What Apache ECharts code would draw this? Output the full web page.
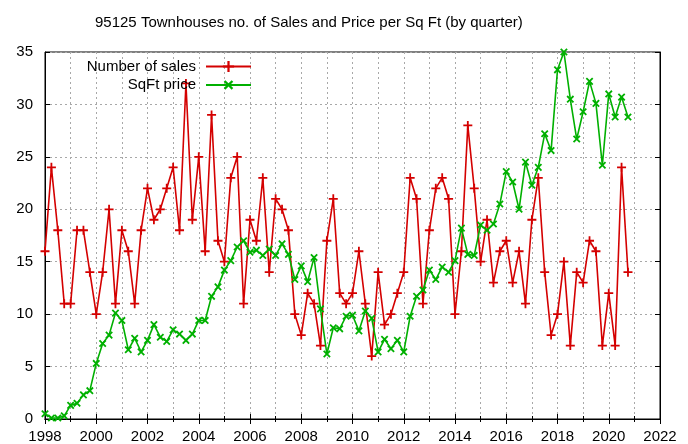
<!DOCTYPE html>
<html>
<head>
<meta charset="utf-8">
<script src="https://cdn.jsdelivr.net/npm/echarts@6/dist/echarts.min.js"></script>
<style>
  html, body { margin: 0; padding: 0; background: #fff; }
  #main { width: 688px; height: 444px; }
</style>
</head>
<body>
<div id="main"></div>
<script>
// quarterly data, first quarter = 1998 Q1
const startYear = 1998
const sales = [16, 24, 18, 11, 11, 18, 18, 14, 10, 14, 20, 11, 18, 16, 11, 18,
  22, 19, 20, 22, 24, 18, 32, 19, 25, 16, 29, 17, 15, 23, 25, 11,
  19, 17, 23, 14, 21, 20, 18, 10, 8, 12, 11, 7, 17, 21, 12, 11,
  12, 16, 11, 6, 14, 9, 10, 12, 14, 23, 21, 11, 18, 22, 23, 21,
  10, 16, 28, 22, 15, 19, 13, 16, 17, 13, 16, 11, 19, 23, 14, 8,
  10, 15, 7, 14, 13, 17, 16, 7, 12, 7, 24, 14]
const sqftPrice = [0.5, 0.1, 0.1, 0.3, 1.3, 1.5, 2.3, 2.7, 5.3, 7.2, 8.0, 10.1, 9.4, 6.6, 7.7, 6.4,
  7.5, 9.0, 7.8, 7.4, 8.5, 8.1, 7.5, 8.1, 9.4, 9.4, 11.7, 12.6, 14.2, 15.1, 16.4, 17.0,
  15.9, 16.1, 15.6, 16.2, 15.6, 16.7, 15.7, 13.3, 14.6, 13.1, 15.4, 10.5, 6.2, 8.7, 8.6, 9.8,
  9.9, 8.4, 10.3, 9.6, 6.4, 7.6, 6.7, 7.5, 6.4, 9.8, 11.7, 12.3, 14.2, 13.3, 14.5, 14.0,
  15.1, 18.2, 15.7, 15.6, 18.5, 18.0, 18.6, 20.5, 23.6, 22.6, 20.0, 24.5, 22.3, 24.0, 27.2, 25.6,
  33.3, 35.0, 30.5, 26.7, 29.3, 32.2, 30.1, 24.2, 31.0, 28.8, 30.7, 28.8]

const font = 'Liberation Sans, Arial, sans-serif'
const plus = 'path://M-1,-5H1V-1H5V1H1V5H-1V1H-5V-1H-1Z'

const toPoints = arr => arr.map((v, i) => [startYear + i / 4, v])

const gridLine = { show: true, lineStyle: { color: '#a8a8a8', type: [2, 3], width: 1 } }
const legendText = { fontFamily: font, fontSize: 15, color: '#000', padding: [0, 5, 0, 0] }

let option = {
  animation: false,
  backgroundColor: '#fff',
  textStyle: { fontFamily: font },
  title: {
    text: '95125 Townhouses no. of Sales and Price per Sq Ft (by quarter)',
    left: 90,
    top: 10,
    textStyle: { fontFamily: font, fontSize: 15, fontWeight: 'normal', color: '#000' }
  },
  legend: [
    {
      data: ['Number of sales'],
      right: 436, top: 59, padding: 0,
      align: 'right',
      itemWidth: 45, itemHeight: 14,
      textStyle: legendText
    },
    {
      data: ['SqFt price'],
      right: 436, top: 77, padding: 0,
      align: 'right',
      itemWidth: 45, itemHeight: 14,
      textStyle: legendText
    }
  ],
  grid: {
    left: 45, right: 28, top: 52, bottom: 24,
    show: true, borderColor: '#000', borderWidth: 1
  },
  xAxis: [
    {
      type: 'value', min: 1998, max: 2022, interval: 2,
      axisLine: { lineStyle: { color: '#000' } },
      axisTick: { inside: true, length: 5, lineStyle: { color: '#000' } },
      minorTick: { show: true, splitNumber: 2, length: 3, lineStyle: { color: '#000' } },
      axisLabel: { color: '#000', fontSize: 15, fontFamily: font, margin: 10, formatter: v => String(v) },
      splitLine: gridLine,
      minorSplitLine: gridLine
    },
    {
      type: 'value', min: 1998, max: 2022, interval: 2, position: 'top',
      axisLine: { lineStyle: { color: '#000' } },
      axisTick: { inside: true, length: 5, lineStyle: { color: '#000' } },
      minorTick: { show: true, splitNumber: 2, length: 3, lineStyle: { color: '#000' } },
      axisLabel: { show: false },
      splitLine: { show: false }
    }
  ],
  yAxis: [
    {
      type: 'value', min: 0, max: 35, interval: 5,
      axisLine: { show: true, lineStyle: { color: '#000' } },
      axisTick: { show: true, inside: true, length: 5, lineStyle: { color: '#000' } },
      axisLabel: { color: '#000', fontSize: 15, fontFamily: font, margin: 12 },
      splitLine: gridLine
    },
    {
      type: 'value', min: 0, max: 35, interval: 5, position: 'right',
      axisLine: { show: true, lineStyle: { color: '#000' } },
      axisTick: { show: true, inside: true, length: 5, lineStyle: { color: '#000' } },
      axisLabel: { show: false },
      splitLine: { show: false }
    }
  ],
  series: [
    {
      name: 'Number of sales',
      type: 'line',
      data: toPoints(sales),
      symbol: plus,
      symbolSize: 9,
      showAllSymbol: true,
      color: '#d40000',
      lineStyle: { width: 1.6, color: '#d40000' },
      itemStyle: { color: '#d40000' },
      z: 3
    },
    {
      name: 'SqFt price',
      type: 'line',
      data: toPoints(sqftPrice),
      symbol: plus,
      symbolSize: 9,
      symbolRotate: 45,
      showAllSymbol: true,
      color: '#00b000',
      lineStyle: { width: 1.6, color: '#00b000' },
      itemStyle: { color: '#00b000' },
      z: 4
    }
  ]
}

let myChart = echarts.init(document.getElementById('main'), null, { renderer: 'canvas' })
myChart.setOption(option)
</script>
</body>
</html>
